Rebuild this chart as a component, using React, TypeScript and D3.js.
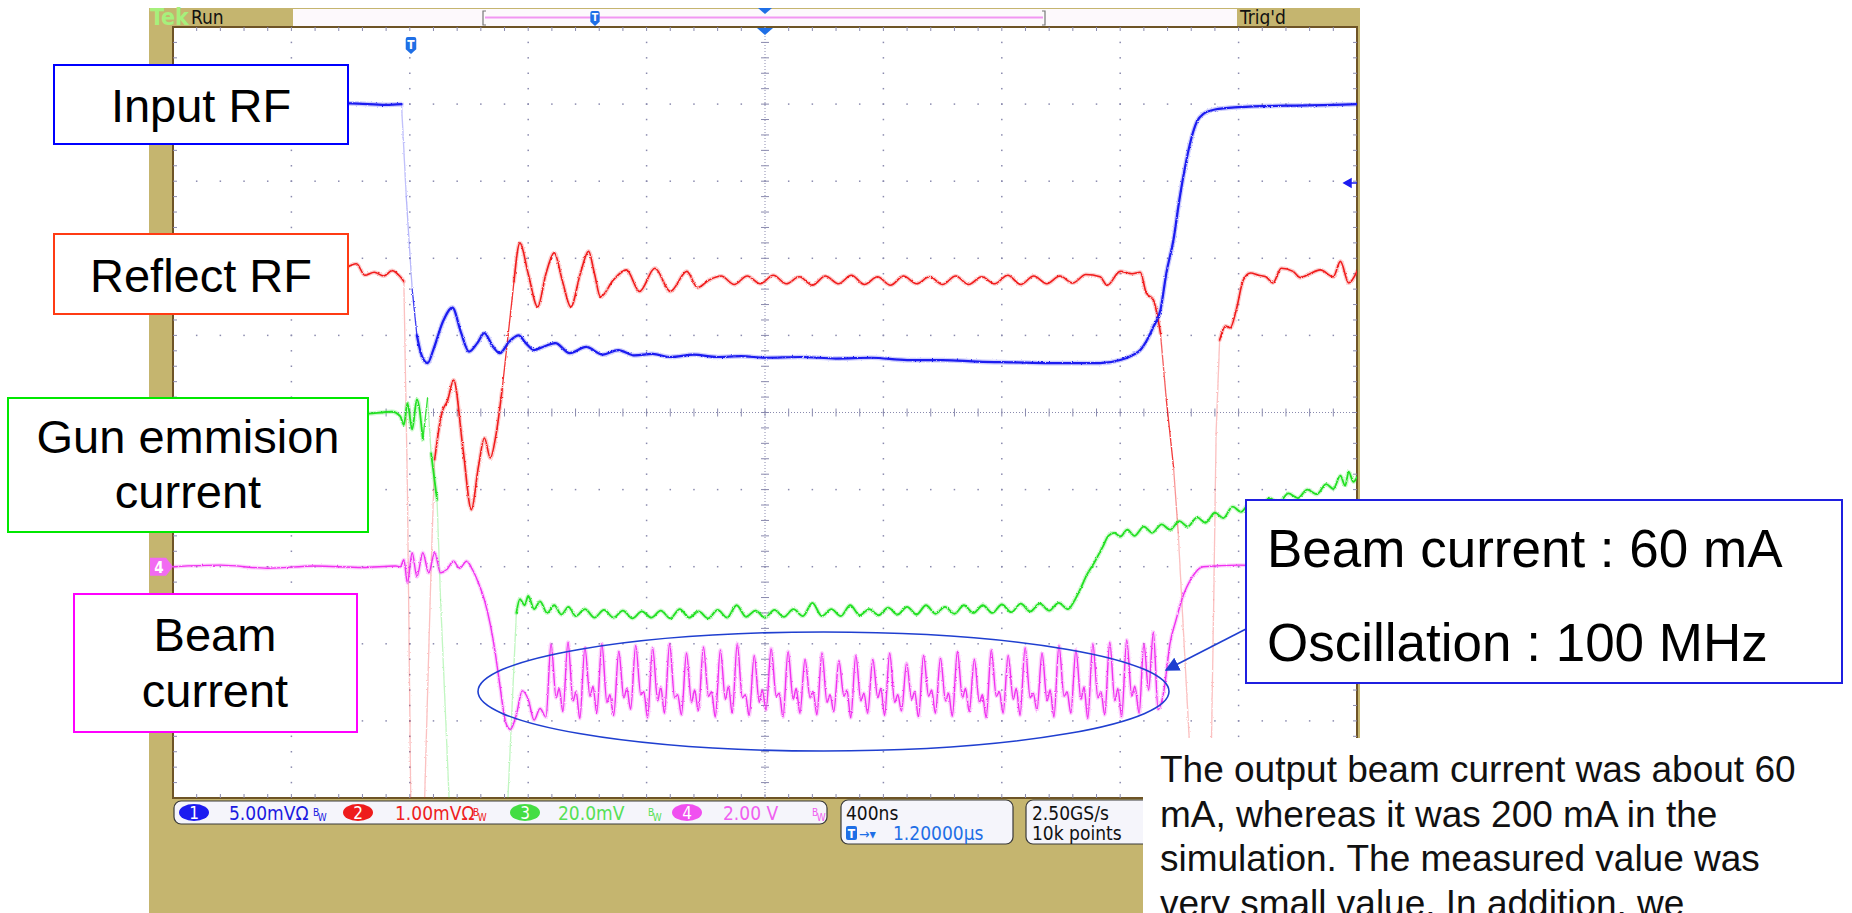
import React from "react";
import * as d3 from "d3";

// Oscilloscope capture: 400 ns/div, 10 horizontal x 10 vertical divisions.
// Times are in divisions (0..10), levels in divisions (-5..5, 0 = centre line).

type Pt = [number, number];

const inputRF: Pt[] = [
  [0, 4.0], [0.3, 4.02], [0.6, 3.99], [0.9, 4.01], [1.2, 3.99], [1.5, 4.01], [1.8, 3.99], [1.93, 4.0],
  [1.97, 2.8], [2.02, 1.6], [2.06, 1.0], [2.1, 0.74], [2.15, 0.64], [2.2, 0.82], [2.28, 1.18], [2.36, 1.36],
  [2.43, 1.05], [2.5, 0.79], [2.57, 0.9], [2.63, 1.03], [2.7, 0.86], [2.76, 0.77], [2.84, 0.92], [2.92, 1.0],
  [2.98, 0.9], [3.05, 0.81], [3.14, 0.86], [3.23, 0.9], [3.35, 0.77], [3.49, 0.85], [3.63, 0.75], [3.76, 0.81],
  [3.9, 0.74], [4.05, 0.76], [4.2, 0.72], [4.4, 0.75], [4.6, 0.72], [4.8, 0.73], [5.0, 0.71], [5.3, 0.72],
  [5.6, 0.7], [5.9, 0.71], [6.2, 0.68], [6.5, 0.68], [6.8, 0.66], [7.1, 0.65], [7.4, 0.64], [7.7, 0.64],
  [7.83, 0.64], [8.0, 0.68], [8.1, 0.74], [8.17, 0.81], [8.23, 0.95], [8.28, 1.11], [8.34, 1.33], [8.39, 1.81],
  [8.45, 2.24], [8.5, 2.76], [8.55, 3.2], [8.6, 3.55], [8.65, 3.78], [8.7, 3.87], [8.8, 3.93], [9.0, 3.96],
  [9.4, 3.98], [9.8, 3.99], [10, 4.0],
];

const reflectRF: Pt[] = [
  [0, 1.8], [0.3, 1.83], [0.6, 1.78], [0.9, 1.82], [1.2, 1.79], [1.4, 1.83], [1.55, 1.93], [1.62, 1.78],
  [1.7, 1.82], [1.78, 1.77], [1.85, 1.84], [1.92, 1.76], [1.95, 1.7], [1.98, -1.0], [2.01, -5.3],
  [2.12, -5.3], [2.18, -2.0], [2.21, -0.61], [2.27, -0.01], [2.32, 0.16], [2.37, 0.42], [2.45, -0.48],
  [2.52, -1.26], [2.58, -0.7], [2.63, -0.33], [2.68, -0.59], [2.73, -0.27], [2.78, 0.3], [2.83, 1.0],
  [2.88, 1.7], [2.93, 2.2], [3.0, 1.8], [3.08, 1.37], [3.15, 1.8], [3.22, 2.07], [3.29, 1.7], [3.36, 1.37],
  [3.44, 1.8], [3.51, 2.09], [3.56, 1.8], [3.61, 1.5], [3.72, 1.72], [3.83, 1.85], [3.94, 1.57], [4.07, 1.87],
  [4.2, 1.57], [4.34, 1.83], [4.43, 1.62], [4.53, 1.72], [4.63, 1.77], [4.74, 1.66], [4.85, 1.77], [4.96, 1.67],
  [5.07, 1.78], [5.18, 1.67], [5.29, 1.76], [5.4, 1.65], [5.51, 1.77], [5.62, 1.67], [5.73, 1.78], [5.84, 1.66],
  [5.95, 1.76], [6.06, 1.65], [6.17, 1.77], [6.28, 1.67], [6.39, 1.76], [6.5, 1.66], [6.61, 1.77], [6.72, 1.66],
  [6.83, 1.76], [6.94, 1.67], [7.05, 1.78], [7.16, 1.66], [7.27, 1.77], [7.38, 1.67], [7.49, 1.77], [7.6, 1.68],
  [7.71, 1.79], [7.83, 1.76], [7.89, 1.65], [8.0, 1.83], [8.1, 1.8], [8.17, 1.82], [8.22, 1.55], [8.28, 1.46],
  [8.34, 1.03], [8.39, 0.16], [8.45, -0.7], [8.49, -1.56], [8.52, -2.43], [8.62, -5.3], [8.76, -5.3],
  [8.79, -2.43], [8.81, -0.27], [8.84, 0.94], [8.89, 1.12], [8.93, 1.1], [8.98, 1.33], [9.04, 1.72],
  [9.1, 1.81], [9.17, 1.78], [9.23, 1.76], [9.29, 1.68], [9.36, 1.87], [9.46, 1.83], [9.52, 1.75],
  [9.59, 1.79], [9.69, 1.85], [9.8, 1.76], [9.86, 1.96], [9.93, 1.68], [10, 1.83],
];

const gunCurrent: Pt[] = [
  [0, -0.02], [0.4, 0.0], [0.8, -0.03], [1.2, 0.0], [1.6, -0.02], [1.85, 0.01], [1.92, -0.05], [1.95, -0.16],
  [1.98, 0.12], [2.02, -0.22], [2.06, 0.17], [2.11, -0.35], [2.15, 0.19], [2.18, -0.53], [2.23, -1.13],
  [2.26, -2.43], [2.34, -5.3], [2.82, -5.3], [2.9, -2.6], [2.93, -2.42], [2.97, -2.5], [3.0, -2.38],
  [3.05, -2.55], [3.1, -2.45], [3.16, -2.6], [3.22, -2.5], [3.28, -2.62], [3.34, -2.52], [3.4, -2.64],
  [3.48, -2.55], [3.56, -2.66], [3.64, -2.56], [3.72, -2.66], [3.8, -2.57], [3.88, -2.67], [3.96, -2.58],
  [4.04, -2.66], [4.12, -2.57], [4.2, -2.67], [4.28, -2.55], [4.36, -2.66], [4.44, -2.58], [4.52, -2.67],
  [4.6, -2.56], [4.68, -2.66], [4.76, -2.5], [4.84, -2.65], [4.92, -2.57], [5.0, -2.66], [5.08, -2.56],
  [5.16, -2.65], [5.24, -2.55], [5.32, -2.64], [5.4, -2.47], [5.48, -2.64], [5.56, -2.55], [5.64, -2.64],
  [5.72, -2.5], [5.8, -2.63], [5.88, -2.55], [5.96, -2.63], [6.04, -2.53], [6.12, -2.62], [6.2, -2.52],
  [6.28, -2.62], [6.36, -2.5], [6.44, -2.61], [6.52, -2.52], [6.6, -2.61], [6.68, -2.5], [6.76, -2.6],
  [6.84, -2.5], [6.92, -2.6], [7.0, -2.49], [7.08, -2.59], [7.16, -2.48], [7.24, -2.58], [7.32, -2.48],
  [7.4, -2.57], [7.48, -2.47], [7.56, -2.55], [7.61, -2.45], [7.66, -2.3], [7.72, -2.1], [7.78, -1.95],
  [7.85, -1.75], [7.9, -1.6], [7.95, -1.56], [8.0, -1.61], [8.06, -1.52], [8.12, -1.6], [8.2, -1.48],
  [8.27, -1.56], [8.35, -1.45], [8.42, -1.52], [8.5, -1.41], [8.57, -1.48], [8.65, -1.36], [8.72, -1.43],
  [8.8, -1.3], [8.87, -1.37], [8.95, -1.22], [9.02, -1.29], [9.1, -1.17], [9.18, -1.24], [9.26, -1.11],
  [9.34, -1.17], [9.42, -1.05], [9.5, -1.11], [9.58, -1.0], [9.66, -1.06], [9.74, -0.93], [9.8, -0.99],
  [9.86, -0.82], [9.9, -0.95], [9.93, -0.77], [9.97, -0.9], [10, -0.84],
];

// Beam current before and after the oscillating part
const beamLead: Pt[] = [
  [0, -2.0], [0.4, -1.98], [0.8, -2.02], [1.2, -1.99], [1.6, -2.01], [1.88, -1.99], [1.92, -2.0],
  [1.95, -1.91], [1.98, -2.21], [2.02, -1.82], [2.06, -2.13], [2.11, -1.82], [2.16, -2.08], [2.21, -1.82],
  [2.26, -2.08], [2.31, -2.04], [2.37, -1.93], [2.42, -2.02], [2.48, -1.93], [2.53, -2.04], [2.58, -2.21],
  [2.63, -2.43], [2.68, -2.75], [2.72, -3.1], [2.76, -3.53], [2.81, -4.02], [2.85, -4.11], [2.9, -3.92],
  [2.95, -3.61], [3.0, -3.72], [3.05, -3.99], [3.1, -3.84],
];
const beamTail: Pt[] = [
  [8.16, -3.9], [8.2, -3.0], [8.24, -3.6], [8.28, -2.85], [8.32, -3.85], [8.37, -3.6], [8.42, -3.0],
  [8.47, -2.7], [8.52, -2.43], [8.61, -2.13], [8.7, -2.0], [9.0, -1.98], [9.5, -2.0], [10, -1.99],
];
// Oscillation: one entry per cycle (deep trough, main peak, shallow trough, small shoulder)
const beamCycleStart = 3.15;
const beamCyclePeriod = 0.143;
const beamDeep = [-3.95, -3.88, -3.97, -3.9, -3.93, -3.85, -3.96, -3.9, -3.92, -3.87, -3.95, -3.9, -3.93, -3.86, -3.95, -3.9, -3.92, -3.88, -3.96, -3.9, -3.93, -3.87, -3.95, -3.9, -3.94, -3.88, -3.96, -3.9, -3.93, -3.86, -3.95, -3.9, -3.97, -3.92, -3.95];
const beamPeak = [-3.0, -2.98, -3.05, -3.0, -3.1, -3.02, -3.05, -3.0, -3.12, -3.04, -3.08, -3.0, -3.15, -3.06, -3.1, -3.2, -3.12, -3.22, -3.15, -3.2, -3.12, -3.25, -3.15, -3.18, -3.1, -3.2, -3.08, -3.15, -3.05, -3.12, -3.02, -3.08, -3.0, -2.98, -2.95];
const beamShallow = [-3.7, -3.74, -3.68, -3.76, -3.7, -3.66, -3.74, -3.7, -3.76, -3.68, -3.72, -3.7, -3.76, -3.68, -3.72, -3.7, -3.76, -3.68, -3.74, -3.7, -3.76, -3.72, -3.68, -3.74, -3.7, -3.76, -3.68, -3.72, -3.7, -3.74, -3.68, -3.72, -3.7, -3.74, -3.68];
const beamShoulder = [-3.58, -3.62, -3.55, -3.66, -3.58, -3.62, -3.56, -3.66, -3.6, -3.62, -3.55, -3.66, -3.6, -3.64, -3.58, -3.62, -3.66, -3.6, -3.64, -3.58, -3.66, -3.62, -3.6, -3.64, -3.58, -3.66, -3.62, -3.58, -3.64, -3.6, -3.62, -3.56, -3.62, -3.58, -3.55];

const channelReadouts = [
  { id: "1", text: "5.00mVΩ", bw: true },
  { id: "2", text: "1.00mVΩ", bw: true },
  { id: "3", text: "20.0mV", bw: true },
  { id: "4", text: "2.00 V", bw: true },
];
const timebase = "400ns";
const triggerPos = "1.20000µs";
const sampleRate = "2.50GS/s";
const recordLength = "10k points";

const labelTexts = {
  input: ["Input RF"],
  reflect: ["Reflect RF"],
  gun: ["Gun emmision", "current"],
  beam: ["Beam", "current"],
  note: ["Beam current : 60 mA", "Oscillation : 100 MHz"],
};
const paragraph = [
  "The output beam current was about 60",
  "mA, whereas it was 200 mA in the",
  "simulation. The measured value was",
  "very small value. In addition, we",
];

const W = 1852;
const H = 913;
const G = { left: 173, right: 1357, top: 27, bottom: 798 };
const TAN = "#c5b56f";
const SCOPE_FONT = "'DejaVu Sans Condensed', 'DejaVu Sans', sans-serif";
const LABEL_FONT = "'Liberation Sans', Arial, sans-serif";

const COL = {
  ch1: "#1c1cf0",
  ch2: "#f01c1c",
  ch3: "#22e022",
  ch4: "#f030f0",
};

function beamOscillation(): Pt[] {
  const pts: Pt[] = [];
  beamPeak.forEach((p, i) => {
    const t0 = beamCycleStart + i * beamCyclePeriod;
    pts.push([t0, beamDeep[i]]);
    pts.push([t0 + beamCyclePeriod * 0.3, p]);
    pts.push([t0 + beamCyclePeriod * 0.6, beamShallow[i]]);
    pts.push([t0 + beamCyclePeriod * 0.78, beamShoulder[i]]);
  });
  return pts;
}

const x = d3.scaleLinear().domain([0, 10]).range([G.left, G.right]);
const y = d3.scaleLinear().domain([-5, 5]).range([G.bottom, G.top]);

// Fast edges are drawn fainter, the way a phosphor-style display renders them.
function Trace({ data, color, width, fadeSlope }: { data: Pt[]; color: string; width: number; fadeSlope: number }) {
  const smooth = d3
    .line<Pt>()
    .x((d) => x(d[0]))
    .y((d) => y(d[1]))
    .curve(d3.curveMonotoneX);
  const straight = d3
    .line<Pt>()
    .x((d) => x(d[0]))
    .y((d) => y(d[1]));
  const steep: { seg: Pt[]; op: number }[] = [];
  const runs: Pt[][] = [];
  let cur: Pt[] = [data[0]];
  for (let i = 1; i < data.length; i++) {
    const dy = Math.abs(y(data[i][1]) - y(data[i - 1][1]));
    const dx = Math.max(0.5, Math.abs(x(data[i][0]) - x(data[i - 1][0])));
    const slope = dy / dx;
    if (slope > fadeSlope && dy > 30) {
      const op = Math.max(0.28, Math.min(0.9, 1 - (slope - fadeSlope) * 0.09));
      steep.push({ seg: [data[i - 1], data[i]], op });
      if (cur.length > 1) runs.push(cur);
      cur = [data[i]];
    } else cur.push(data[i]);
  }
  if (cur.length > 1) runs.push(cur);
  return (
    <g fill="none" strokeLinejoin="round" strokeLinecap="round">
      {steep.map((s, i) => (
        <path key={"s" + i} d={straight(s.seg) || ""} stroke={color} strokeOpacity={s.op} strokeWidth={1.3} />
      ))}
      {runs.map((r, i) => (
        <path key={"h" + i} d={smooth(r) || ""} stroke={color} strokeOpacity={0.22} strokeWidth={width + 2.5} />
      ))}
      {runs.map((r, i) => (
        <path key={"r" + i} d={smooth(r) || ""} stroke={color} strokeWidth={width} />
      ))}
    </g>
  );
}

function Graticule() {
  const dots: React.ReactNode[] = [];
  const dotColor = "#8a8aae";
  const minorX = d3.range(1, 50).map((k) => k * 0.2);
  const minorY = d3.range(1, 50).map((k) => -5 + k * 0.2);
  d3.range(1, 10).forEach((i) => {
    if (i === 5) return;
    minorY.forEach((v, k) =>
      dots.push(<rect key={`v${i}-${k}`} x={x(i) - 0.75} y={y(v) - 0.75} width={1.5} height={1.5} fill={dotColor} />)
    );
  });
  d3.range(-4, 5).forEach((j) => {
    if (j === 0) return;
    minorX.forEach((t, k) =>
      dots.push(<rect key={`h${j}-${k}`} x={x(t) - 0.75} y={y(j) - 0.75} width={1.5} height={1.5} fill={dotColor} />)
    );
  });
  const cx = x(5);
  const cy = y(0);
  return (
    <g>
      {dots}
      <line x1={G.left} x2={G.right} y1={cy} y2={cy} stroke={dotColor} strokeWidth={1} strokeDasharray="1 2" />
      <line x1={cx} x2={cx} y1={G.top} y2={G.bottom} stroke={dotColor} strokeWidth={1} strokeDasharray="1 2" />
      {minorX.map((t, k) => (
        <line key={`ct${k}`} x1={x(t)} x2={x(t)} y1={cy - 4} y2={cy + 4} stroke={dotColor} strokeWidth={1} />
      ))}
      {minorY.map((v, k) => (
        <line key={`cv${k}`} x1={cx - 4} x2={cx + 4} y1={y(v)} y2={y(v)} stroke={dotColor} strokeWidth={1} />
      ))}
      {minorX.map((t, k) => (
        <g key={`bt${k}`}>
          <line x1={x(t)} x2={x(t)} y1={G.top} y2={G.top + 4} stroke={dotColor} />
          <line x1={x(t)} x2={x(t)} y1={G.bottom} y2={G.bottom - 4} stroke={dotColor} />
        </g>
      ))}
      {minorY.map((v, k) => (
        <g key={`bl${k}`}>
          <line x1={G.left} x2={G.left + 4} y1={y(v)} y2={y(v)} stroke={dotColor} />
          <line x1={G.right} x2={G.right - 4} y1={y(v)} y2={y(v)} stroke={dotColor} />
        </g>
      ))}
    </g>
  );
}

function TBadge({ cx, top, h }: { cx: number; top: number; h: number }) {
  const w = h * 0.62;
  const p = `M${cx - w / 2},${top + 2} Q${cx - w / 2},${top} ${cx - w / 2 + 2},${top} L${cx + w / 2 - 2},${top} Q${cx + w / 2},${top} ${cx + w / 2},${top + 2} L${cx + w / 2},${top + h * 0.72} L${cx},${top + h} L${cx - w / 2},${top + h * 0.72} Z`;
  return (
    <g>
      <path d={p} fill="#1f6fe6" />
      <text x={cx} y={top + h * 0.68} textAnchor="middle" fontFamily={SCOPE_FONT} fontWeight="bold" fontSize={h * 0.7} fill="#fff">
        T
      </text>
    </g>
  );
}

function LabelBox({
  x0, y0, w, h, color, lines, size, baselines, cx, anchor = "middle",
}: {
  x0: number; y0: number; w: number; h: number; color: string; lines: string[]; size: number;
  baselines: number[]; cx: number; anchor?: string;
}) {
  return (
    <g>
      <rect x={x0} y={y0} width={w} height={h} fill="#fff" stroke={color} strokeWidth={2} />
      {lines.map((l, i) => (
        <text key={i} x={cx} y={baselines[i]} textAnchor={anchor} fontFamily={LABEL_FONT} fontSize={size} fill="#000">
          {l}
        </text>
      ))}
    </g>
  );
}

export default function App() {
  const beam: Pt[] = [...beamLead, ...beamOscillation(), ...beamTail];
  const badgeCols = [COL.ch1, "#ee1c1c", "#44dd44", "#f050f0"];
  const textCols = ["#1a1ae0", "#ee2020", "#55e055", "#f060f0"];
  const badgeX = [194, 358, 525, 687];
  const textX = [229, 395, 558, 723];
  const bwX = [313, 473, 648, 812];

  return (
    <svg
      width={W}
      height={H}
      viewBox={`0 0 ${W} ${H}`}
      style={{ position: "absolute", left: 0, top: 0, background: "#fff" }}
    >
      <defs>
        <clipPath id="screen">
          <rect x={G.left} y={G.top} width={G.right - G.left} height={G.bottom - G.top} />
        </clipPath>
        <filter id="jitter" filterUnits="userSpaceOnUse" x={0} y={0} width={W} height={H}>
          <feTurbulence type="fractalNoise" baseFrequency="0.8" numOctaves={1} seed={4} result="n" />
          <feDisplacementMap in="SourceGraphic" in2="n" scale={2.5} xChannelSelector="R" yChannelSelector="G" />
        </filter>
        <marker id="arrowHead" viewBox="0 0 10 10" refX={9} refY={5} markerWidth={9} markerHeight={9} orient="auto">
          <path d="M0,0 L10,5 L0,10 Z" fill="#1f3fd0" />
        </marker>
      </defs>

      {/* instrument bezel */}
      <rect x={149} y={8} width={1211} height={H - 8} fill={TAN} />
      <text x={150} y={25} fontFamily={SCOPE_FONT} fontWeight="bold" fontSize={23} fill="#a6f07c">
        Tek
      </text>
      <text x={191} y={24} fontFamily={SCOPE_FONT} fontSize={19} fill="#111">
        Run
      </text>
      <text x={1240} y={24} fontFamily={SCOPE_FONT} fontSize={19} fill="#111">
        Trig'd
      </text>
      <rect x={293} y={9} width={944} height={17} fill="#fdf9fc" />
      <line x1={485} x2={1043} y1={17.5} y2={17.5} stroke="#f297f2" strokeWidth={2} />
      <path d="M486,11 L483,11 L483,25 L486,25" fill="none" stroke="#777" strokeWidth={1.2} />
      <path d="M1042,11 L1045,11 L1045,25 L1042,25" fill="none" stroke="#777" strokeWidth={1.2} />
      <TBadge cx={595} top={11} h={15} />
      <path d={`M${x(5) - 7},8 L${x(5) + 7},8 L${x(5)},14 Z`} fill="#1f6fe6" />

      {/* screen */}
      <rect x={G.left} y={G.top} width={G.right - G.left} height={G.bottom - G.top} fill="#fff" stroke="#6e5426" strokeWidth={2} />
      <Graticule />
      <path d={`M${x(5) - 8},${G.top + 1} L${x(5) + 8},${G.top + 1} L${x(5)},${G.top + 8} Z`} fill="#1f6fe6" />
      <TBadge cx={411} top={37} h={17} />

      <g clipPath="url(#screen)">
        <g filter="url(#jitter)">
          <Trace data={reflectRF} color={COL.ch2} width={1.6} fadeSlope={8} />
          <Trace data={gunCurrent} color={COL.ch3} width={1.8} fadeSlope={8} />
          <Trace data={beam} color={COL.ch4} width={1.4} fadeSlope={30} />
          <Trace data={inputRF} color={COL.ch1} width={2.2} fadeSlope={8} />
        </g>
      </g>

      {/* channel markers */}
      <path d={`M150,${y(-2) - 9} L166,${y(-2) - 9} L173,${y(-2)} L166,${y(-2) + 9} L150,${y(-2) + 9} Z`} fill="#f26af2" />
      <text x={159} y={y(-2) + 6} textAnchor="middle" fontFamily={SCOPE_FONT} fontWeight="bold" fontSize={15} fill="#fff">
        4
      </text>
      <path d={`M1344,183 L1351,179 L1351,187 Z M1350,183 L1357,183`} fill="#1c1cf0" stroke="#1c1cf0" strokeWidth={1.5} />

      {/* readouts */}
      <rect x={174} y={801} width={653} height={23} rx={7} fill="#f5f5fb" stroke="#3a3a3a" strokeWidth={1.2} />
      {channelReadouts.map((c, i) => (
        <g key={c.id}>
          <ellipse cx={badgeX[i]} cy={812.5} rx={15} ry={8.5} fill={badgeCols[i]} />
          <text x={badgeX[i]} y={819} textAnchor="middle" fontFamily={SCOPE_FONT} fontSize={17} fill="#fff">
            {c.id}
          </text>
          <text x={textX[i]} y={820} fontFamily={SCOPE_FONT} fontSize={19} fill={textCols[i]}>
            {c.text}
          </text>
          {c.bw && (
            <text x={bwX[i]} y={816} fontFamily={SCOPE_FONT} fontSize={10} fill={textCols[i]}>
              B
              <tspan dx={-1} dy={5}>W</tspan>
            </text>
          )}
        </g>
      ))}
      <rect x={841} y={800} width={172} height={44} rx={7} fill="#f5f5fb" stroke="#3a3a3a" strokeWidth={1.2} />
      <text x={846} y={820} fontFamily={SCOPE_FONT} fontSize={19} fill="#111">
        {timebase}
      </text>
      <rect x={846} y={826} width={11} height={14} rx={2} fill="#1f6fe6" />
      <text x={851.5} y={838} textAnchor="middle" fontFamily={SCOPE_FONT} fontWeight="bold" fontSize={12} fill="#fff">
        T
      </text>
      <text x={859} y={839} fontFamily={SCOPE_FONT} fontSize={14} fill="#1f6fe6">
        →▾
      </text>
      <text x={893} y={840} fontFamily={SCOPE_FONT} fontSize={19} fill="#1f6fe6">
        {triggerPos}
      </text>
      <rect x={1026} y={800} width={150} height={44} rx={7} fill="#f5f5fb" stroke="#3a3a3a" strokeWidth={1.2} />
      <text x={1032} y={820} fontFamily={SCOPE_FONT} fontSize={19} fill="#111">
        {sampleRate}
      </text>
      <text x={1032} y={840} fontFamily={SCOPE_FONT} fontSize={19} fill="#111">
        {recordLength}
      </text>

      {/* annotations */}
      <LabelBox x0={54} y0={65} w={294} h={79} color="#0000ff" lines={labelTexts.input} size={47} baselines={[122]} cx={201} />
      <LabelBox x0={54} y0={234} w={294} h={80} color="#ff3b14" lines={labelTexts.reflect} size={47} baselines={[292]} cx={201} />
      <LabelBox x0={8} y0={398} w={360} h={134} color="#00e800" lines={labelTexts.gun} size={47} baselines={[453, 508]} cx={188} />
      <LabelBox x0={74} y0={594} w={283} h={138} color="#ff00ff" lines={labelTexts.beam} size={47} baselines={[651, 707]} cx={215} />

      <ellipse cx={823.5} cy={691.5} rx={345.5} ry={59.5} fill="none" stroke="#1f3fd0" strokeWidth={1.6} />
      <line x1={1246} y1={629} x2={1166} y2={670} stroke="#1f3fd0" strokeWidth={1.6} markerEnd="url(#arrowHead)" />
      <LabelBox
        x0={1246} y0={500} w={596} h={183} color="#1f1fe0" lines={labelTexts.note} size={53}
        baselines={[567, 661]} cx={1267} anchor="start"
      />

      <rect x={1143} y={738} width={W - 1143} height={H - 738} fill="#fff" />
      {paragraph.map((l, i) => (
        <text key={i} x={1160} y={782 + i * 44.5} fontFamily={LABEL_FONT} fontSize={37} fill="#111">
          {l}
        </text>
      ))}
    </svg>
  );
}
